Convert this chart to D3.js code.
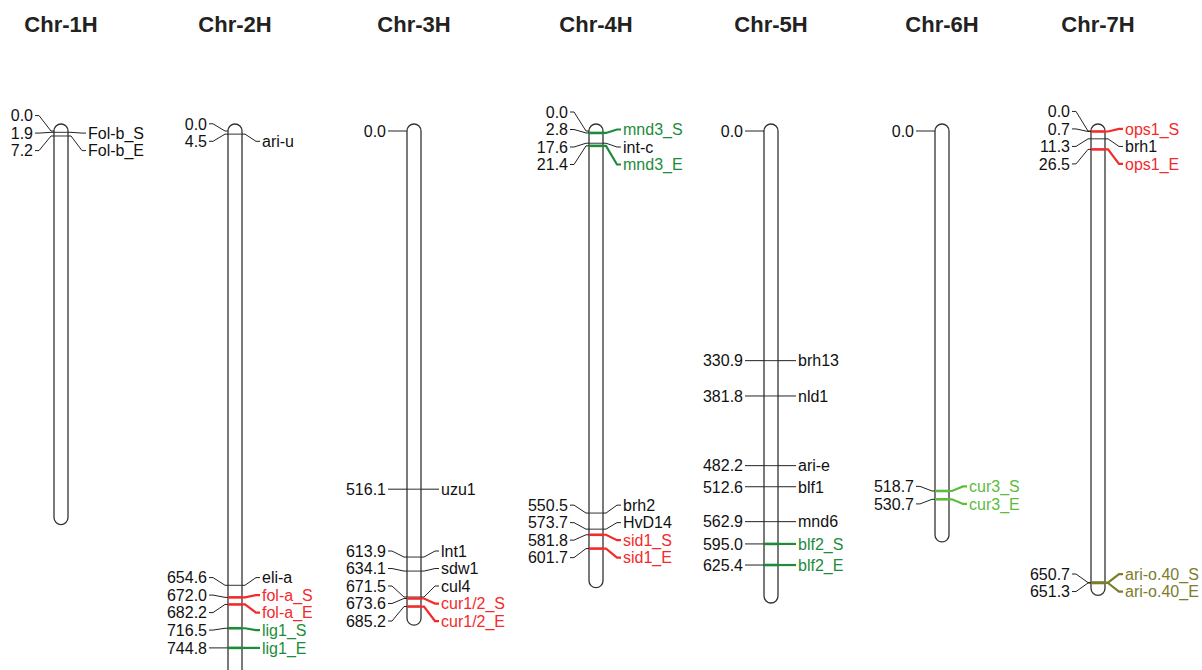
<!DOCTYPE html>
<html><head><meta charset="utf-8">
<script src="https://cdn.jsdelivr.net/npm/d3@7"></script>
<style>body{margin:0;background:#fff}svg{display:block}</style>
</head><body>
<svg id="c" width="1202" height="670"></svg>
<script>
// ---- data ----
const chromosomes = ["Chr-1H","Chr-2H","Chr-3H","Chr-4H","Chr-5H","Chr-6H","Chr-7H"];
const chrLengths  = [557, 800, 702, 648, 670, 582, 659];
// [position cM, right label, gene group]
const chr1H = [[0.0,"",""],[1.9,"Fol-b_S","k"],[7.2,"Fol-b_E","k"]];
const chr2H = [[0.0,"",""],[4.5,"ari-u","k"],[654.6,"eli-a","k"],[672.0,"fol-a_S","fol-a"],[682.2,"fol-a_E","fol-a"],[716.5,"lig1_S","lig1"],[744.8,"lig1_E","lig1"]];
const chr3H = [[0.0,"",""],[516.1,"uzu1","k"],[613.9,"lnt1","k"],[634.1,"sdw1","k"],[671.5,"cul4","k"],[673.6,"cur1/2_S","cur1/2"],[685.2,"cur1/2_E","cur1/2"]];
const chr4H = [[0.0,"",""],[2.8,"mnd3_S","mnd3"],[17.6,"int-c","k"],[21.4,"mnd3_E","mnd3"],[550.5,"brh2","k"],[573.7,"HvD14","k"],[581.8,"sid1_S","sid1"],[601.7,"sid1_E","sid1"]];
const chr5H = [[0.0,"",""],[330.9,"brh13","k"],[381.8,"nld1","k"],[482.2,"ari-e","k"],[512.6,"blf1","k"],[562.9,"mnd6","k"],[595.0,"blf2_S","blf2"],[625.4,"blf2_E","blf2"]];
const chr6H = [[0.0,"",""],[518.7,"cur3_S","cur3"],[530.7,"cur3_E","cur3"]];
const chr7H = [[0.0,"",""],[0.7,"ops1_S","ops1"],[11.3,"brh1","k"],[26.5,"ops1_E","ops1"],[650.7,"ari-o.40_S","ari-o.40"],[651.3,"ari-o.40_E","ari-o.40"]];
const markerSets = [chr1H, chr2H, chr3H, chr4H, chr5H, chr6H, chr7H];
const groups = ["k","","fol-a","lig1","cur1/2","mnd3","sid1","blf2","cur3","ops1","ari-o.40"];

// ---- styles / layout ----
const groupColor = d3.scaleOrdinal().domain(groups)
  .range(["#1a1a1a","#1a1a1a","#f42a2a","#1c8c3a","#f42a2a","#1c8c3a","#f42a2a","#1c8c3a","#5cbc3c","#f42a2a","#7b7d2c"]);
const svg = d3.select("#c");
const y = d3.scaleLinear().domain([0, 800]).range([131, 131 + 800*0.694]);
const x = d3.scaleOrdinal().domain(chromosomes).range([61,235,414,596,771,942,1098]);
const W = 14, R = 7, GAP = 17.5;
const font = "'Liberation Sans', Arial, sans-serif";

function spread(ys, d){
  const cl = [];
  ys.forEach((v,i)=>{
    cl.push({sum:v, n:1, idx:[i]});
    while(cl.length>1){
      const a = cl[cl.length-2], b = cl[cl.length-1];
      const aTop = a.sum/a.n - (a.n-1)/2*d, bTop = b.sum/b.n - (b.n-1)/2*d;
      if (aTop + a.n*d > bTop){
        a.sum += b.sum; a.n += b.n; a.idx = a.idx.concat(b.idx); cl.pop();
      } else break;
    }
  });
  const out = new Array(ys.length);
  cl.forEach(c=>{ const top = c.sum/c.n - (c.n-1)/2*d; c.idx.forEach((k,j)=>out[k]=top + j*d); });
  return out;
}

chromosomes.forEach((name, ci)=>{
  const cx = x(name), L = chrLengths[ci], markers = markerSets[ci];
  const g = svg.append("g");
  g.append("text").attr("x", cx).attr("y", 32).attr("text-anchor","middle")
    .attr("font-family", font).attr("font-weight","bold").attr("font-size", 22).attr("fill","#222").text(name);
  g.append("rect").attr("x", cx - W/2).attr("y", y(0) - R).attr("width", W)
    .attr("height", y(L) - y(0) + 2*R).attr("rx", R).attr("ry", R)
    .attr("fill","#fff").attr("stroke","#333").attr("stroke-width",1.3);
  const my = markers.map(m=>y(m[0]));
  const ly = spread(my, GAP);
  const bl = cx - W/2, br = cx + W/2, lx = cx - 28, rx = cx + 27;
  markers.forEach((m,i)=>{
    const col = groupColor(m[2]);
    const colored = m[2] !== "k" && m[2] !== "";
    g.append("path").attr("fill","none").attr("stroke","#222").attr("stroke-width",1)
      .attr("d", d3.line()([[lx+2, ly[i]],[lx+6, ly[i]],[bl-3, my[i]],[bl, my[i]]]));
    g.append("text").attr("x", lx).attr("y", ly[i]).attr("dy","0.36em").attr("text-anchor","end")
      .attr("font-family", font).attr("font-size", 16).attr("fill","#111").text(m[0].toFixed(1));
    if (m[1]) {
      g.append("line").attr("x1", bl).attr("x2", br).attr("y1", my[i]).attr("y2", my[i])
        .attr("stroke", colored ? col : "#333").attr("stroke-width", colored ? 2.6 : 1);
      g.append("path").attr("fill","none").attr("stroke", colored ? col : "#222").attr("stroke-width", colored ? 2.2 : 1)
        .attr("d", d3.line()([[br, my[i]],[br+3, my[i]],[rx-6, ly[i]],[rx-2, ly[i]]]));
      g.append("text").attr("x", rx).attr("y", ly[i]).attr("dy","0.36em")
        .attr("font-family", font).attr("font-size", 16).attr("fill", colored ? col : "#111").text(m[1]);
    }
  });
});
</script>
</body></html>
